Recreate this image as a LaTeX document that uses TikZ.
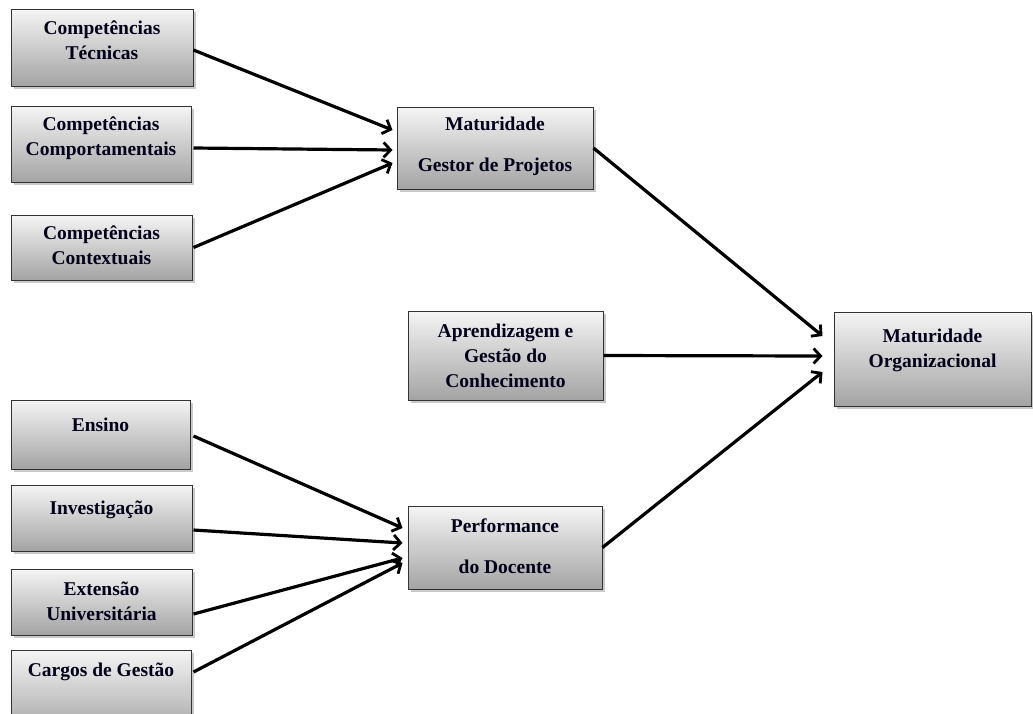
\documentclass[tikz,border=0pt]{standalone}
\usepackage{fontspec}
\setmainfont{Liberation Serif}
\usetikzlibrary{arrows.meta,shadows,calc}
\tikzset{
  box/.style={draw=black!80, line width=1pt, top color=black!4, bottom color=black!36,
    drop shadow={shadow xshift=2.5pt, shadow yshift=-3pt, opacity=0.35, fill=black!60},
    inner sep=0pt},
  lbl/.style={font=\fontsize{19.5}{25}\selectfont\bfseries, text=black!90!blue, align=center, inner sep=0pt},
  arr/.style={line width=3.2pt, -{Straight Barb[length=7pt,width=15pt,line width=2.8pt]}}
}
\newcommand\mybox[5]{%
  \node[box, minimum width={(#4-#2)*1pt}, minimum height={(#5-#3)*1pt}] (#1) at ({(#2+#4)/2},{(#3+#5)/2}) {};}
\begin{document}
\begin{tikzpicture}[x=1pt,y=-1pt]
\useasboundingbox (0,0) rectangle (1033,713);
\clip (0,0) rectangle (1033,713);
\fill[white] (0,0) rectangle (1033,713);
% boxes
\mybox{ct}{11}{9}{193}{86}
\mybox{cc}{11}{106}{191}{182}
\mybox{cx}{11}{215}{192}{280}
\mybox{mg}{397}{107}{593}{189}
\mybox{ag}{408}{311}{603}{400}
\mybox{mo}{834}{312}{1031}{406}
\mybox{en}{11}{400}{190}{469}
\mybox{iv}{11}{485}{192}{551}
\mybox{ex}{11}{569}{192}{635}
\mybox{cg}{11}{650}{191}{735}
\mybox{pd}{408}{506}{602}{589}
% texts
\node[lbl] (ctt) at (102,40) {Competências\\Técnicas};
\node[lbl] (cct) at (101,138) {Competências\\Comportamentais};
\node[lbl] (cxt) at (101.5,245) {Competências\\Contextuais};
\node[lbl] (mgt) at (495,146) {Maturidade\\[16pt]Gestor de Projetos};
\node[lbl] (agt) at (505.5,356) {Aprendizagem e\\Gestão do\\Conhecimento};
\node[lbl] (mot) at (932.5,350) {Maturidade\\Organizacional};
\node[lbl] (ent) at (100.5,425) {Ensino};
\node[lbl] (ivt) at (101.5,510) {Investigação};
\node[lbl] (ext) at (101.5,601) {Extensão\\Universitária};
\node[lbl] (cgt) at (101,672) {Cargos de Gestão};
\node[lbl] (pdt) at (505,546) {Performance\\[16pt]do Docente};
% arrows
\draw[arr] ($(ct.east)+(0,2.5)$) -- ($(mg.west)+(-4,-18)$);
\draw[arr] ($(cc.east)+(2,4)$) -- ($(mg.west)+(-4,2)$);
\draw[arr] ($(cx.east)+(1,0)$) -- ($(mg.west)+(-4,15)$);
\draw[arr] (mg.east) -- ($(mo.west)+(-11,-23)$);
\draw[arr] (ag.east) -- ($(mo.west)+(-11,-3)$);
\draw[arr] (pd.east) -- ($(mo.west)+(-11,13)$);
\draw[arr] ($(en.east)+(3,1.5)$) -- ($(pd.west)+(-5,-19.5)$);
\draw[arr] ($(iv.east)+(1,12)$) -- ($(pd.west)+(-5,-4.5)$);
\draw[arr] ($(ex.east)+(1,12)$) -- ($(pd.west)+(-5,10.5)$);
\draw[arr] ($(cg.east)+(2,-20.5)$) -- ($(pd.west)+(-5,15.5)$);
\end{tikzpicture}
\end{document}
